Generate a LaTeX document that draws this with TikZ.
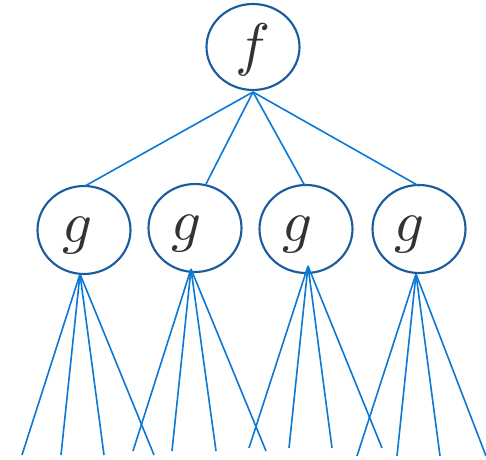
\documentclass[tikz,border=0pt]{standalone}
\begin{document}
\begin{tikzpicture}[x=0.75pt,y=-0.75pt,
  edge/.style={draw=lineblue,line width=1.2pt},
  ring/.style={draw=circblue,line width=1.6pt},
  lbl/.style={text=textgrey,scale=4.4}]
\definecolor{circblue}{HTML}{1A5C9E}
\definecolor{lineblue}{HTML}{0A78D4}
\definecolor{textgrey}{HTML}{333333}
\useasboundingbox (0,0) rectangle (486,460);
% circles
\draw[ring] (253,47) ellipse [x radius=46.5, y radius=43];
\draw[ring] (84,230) ellipse [x radius=46.5, y radius=44];
\draw[ring] (195,228) ellipse [x radius=46.5, y radius=44];
\draw[ring] (306,229) ellipse [x radius=46.5, y radius=44];
\draw[ring] (419,229) ellipse [x radius=46.5, y radius=44];
\node[lbl] (f) at (253,50) {$f$};
\node[lbl] (g1) at (78,236) {$g$};
\node[lbl] (g2) at (187,234) {$g$};
\node[lbl] (g3) at (298,235) {$g$};
\node[lbl] (g4) at (410,235) {$g$};
% coordinates
\coordinate (fb) at (253,92);
\coordinate (t1) at (85,186);
\coordinate (t2) at (206,184);
\coordinate (t3) at (305,186);
\coordinate (t4) at (419,186);
\coordinate (b1) at (80,274);
\coordinate (b2) at (191,269);
\coordinate (b3) at (308,266);
\coordinate (b4) at (416,274);
\foreach \i in {1,2,3,4} \draw[edge] (fb) -- (t\i);
\foreach \x in {22,61,104,154} {\coordinate (e) at (\x,455); \draw[edge] (b1) -- (e);}
\foreach \x in {133,172,216,266} {\coordinate (e) at (\x,451); \draw[edge] (b2) -- (e);}
\foreach \x in {249,289,332,382} {\coordinate (e) at (\x,448); \draw[edge] (b3) -- (e);}
\foreach \x in {357,397,440,486} {\coordinate (e) at (\x,456); \draw[edge] (b4) -- (e);}
\end{tikzpicture}
\end{document}
